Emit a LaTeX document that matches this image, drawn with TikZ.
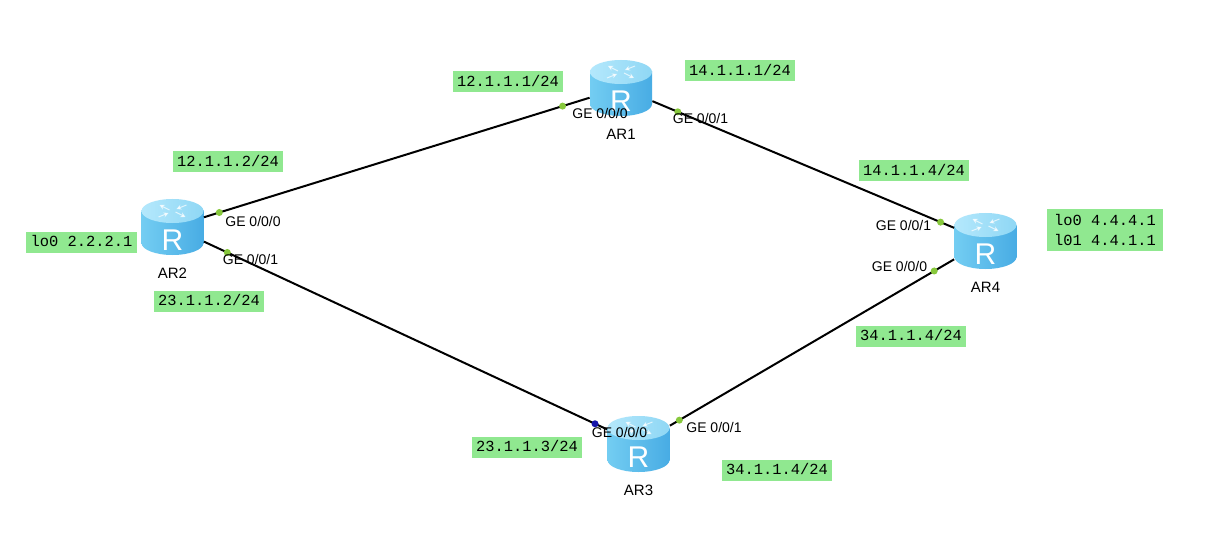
\documentclass[tikz,border=0pt]{standalone}
\usepackage{fontspec}
\setmainfont{Liberation Sans}
\newfontfamily\addrfont{Liberation Mono}
\usetikzlibrary{positioning,arrows.meta}
\definecolor{addrgreen}{RGB}{144,232,144}
\definecolor{portgreen}{RGB}{135,200,60}
\definecolor{portblue}{RGB}{20,20,170}
\definecolor{routerlight}{RGB}{180,232,252}
\definecolor{routermid}{RGB}{115,205,242}
\definecolor{routerdark}{RGB}{72,172,228}
\begin{document}
\begin{tikzpicture}[x=0.5pt,y=-0.5pt,
    routerbox/.style={minimum width=31pt, minimum height=28pt, inner sep=0pt},
    routerbody/.style={left color=routermid, middle color=routerlight!70!routermid, right color=routerdark},
    routericon/.pic={
      \shade[routerbody] (-31,-16) rectangle (31,16);
      \shade[routerbody] (0,16) ellipse [x radius=31, y radius=12];
      \shade[left color=routerlight, right color=routermid!80!white]
        (0,-16) ellipse [x radius=31, y radius=12];
      \draw[white, opacity=.7, line width=.5pt, -{Stealth[length=2.5pt,width=2.5pt]}] (-3,-17) -- (-13,-22);
      \draw[white, opacity=.7, line width=.5pt, -{Stealth[length=2.5pt,width=2.5pt]}] (3,-15) -- (13,-10);
      \draw[white, opacity=.7, line width=.5pt, -{Stealth[length=2.5pt,width=2.5pt]}] (14,-22) -- (4,-18);
      \draw[white, opacity=.7, line width=.5pt, -{Stealth[length=2.5pt,width=2.5pt]}] (-14,-10) -- (-4,-14);
      \node[text=white, font=\fontsize{15}{15}\selectfont, inner sep=0pt] (-R) at (0,13) {R};
    },
    link/.style={line width=1pt, black},
    portdot/.style={circle, fill=portgreen, inner sep=0pt, minimum size=3.5pt},
    portname/.style={font=\fontsize{7}{8}\selectfont, inner sep=0pt},
    devname/.style={font=\fontsize{7.5}{9}\selectfont, inner sep=0pt},
    addr/.style={fill=addrgreen, font=\addrfont\fontsize{7.7}{10}\selectfont,
      inner xsep=2.2pt, inner ysep=1.5pt, text height=5.8pt, text depth=1.7pt}]

    \fill[white] (0,0) rectangle (1224,534);

    \node[routerbox] (AR1) at (621,88) {};
    \node[routerbox] (AR2) at (172.5,227) {};
    \node[routerbox] (AR3) at (638.5,444) {};
    \node[routerbox] (AR4) at (985.5,241) {};
    \pic (AR1icon) at (AR1) {routericon};
    \pic (AR2icon) at (AR2) {routericon};
    \pic (AR3icon) at (AR3) {routericon};
    \pic (AR4icon) at (AR4) {routericon};

    \node[devname, below=6pt of AR1] (AR1name) {AR1};
    \node[devname, below=6pt of AR2] (AR2name) {AR2};
    \node[devname, below=6pt of AR3] (AR3name) {AR3};
    \node[devname, below=6pt of AR4] (AR4name) {AR4};

    \draw[link] (AR2) -- node[portdot, pos=.04] (p2g0) {} node[portdot, pos=.93] (p1g0) {} (AR1);
    \draw[link] (AR1) -- node[portdot, pos=.084] (p1g1) {} node[portdot, pos=.955] (p4g1) {} (AR4);
    \draw[link] (AR2) -- node[portdot, pos=.058] (p2g1) {} node[portdot, fill=portblue, pos=.97] (p3g0) {} (AR3);
    \draw[link] (AR3) -- node[portdot, pos=.033] (p3g1) {} node[portdot, pos=.93] (p4g0) {} (AR4);

    \node[portname] (l2g0) at (253,221) {GE 0/0/0};
    \node[portname] (l2g1) at (250.5,259) {GE 0/0/1};
    \node[portname] (l1g0) at (600,113) {GE 0/0/0};
    \node[portname] (l1g1) at (700.5,118) {GE 0/0/1};
    \node[portname] (l4g1) at (903.5,225) {GE 0/0/1};
    \node[portname] (l4g0) at (899.5,266) {GE 0/0/0};
    \node[portname] (l3g0) at (619.5,432) {GE 0/0/0};
    \node[portname] (l3g1) at (714,427) {GE 0/0/1};

    \node[addr] (a12one) at (508,82) {12.1.1.1/24};
    \node[addr] (a14one) at (740,71) {14.1.1.1/24};
    \node[addr] (a12two) at (228,162) {12.1.1.2/24};
    \node[addr] (lotwo) at (81.5,242) {lo0 2.2.2.1};
    \node[addr] (a23two) at (209,301) {23.1.1.2/24};
    \node[addr] (a14four) at (914,171) {14.1.1.4/24};
    \node[addr, text height=, text depth=, inner ysep=2.5pt, inner xsep=3.5pt, align=left] (lofour) at (1105,230) {lo0 4.4.4.1\\l01 4.4.1.1};
    \node[addr] (a34four) at (911,336) {34.1.1.4/24};
    \node[addr] (a23three) at (527,447) {23.1.1.3/24};
    \node[addr] (a34three) at (777,470) {34.1.1.4/24};
\end{tikzpicture}
\end{document}
